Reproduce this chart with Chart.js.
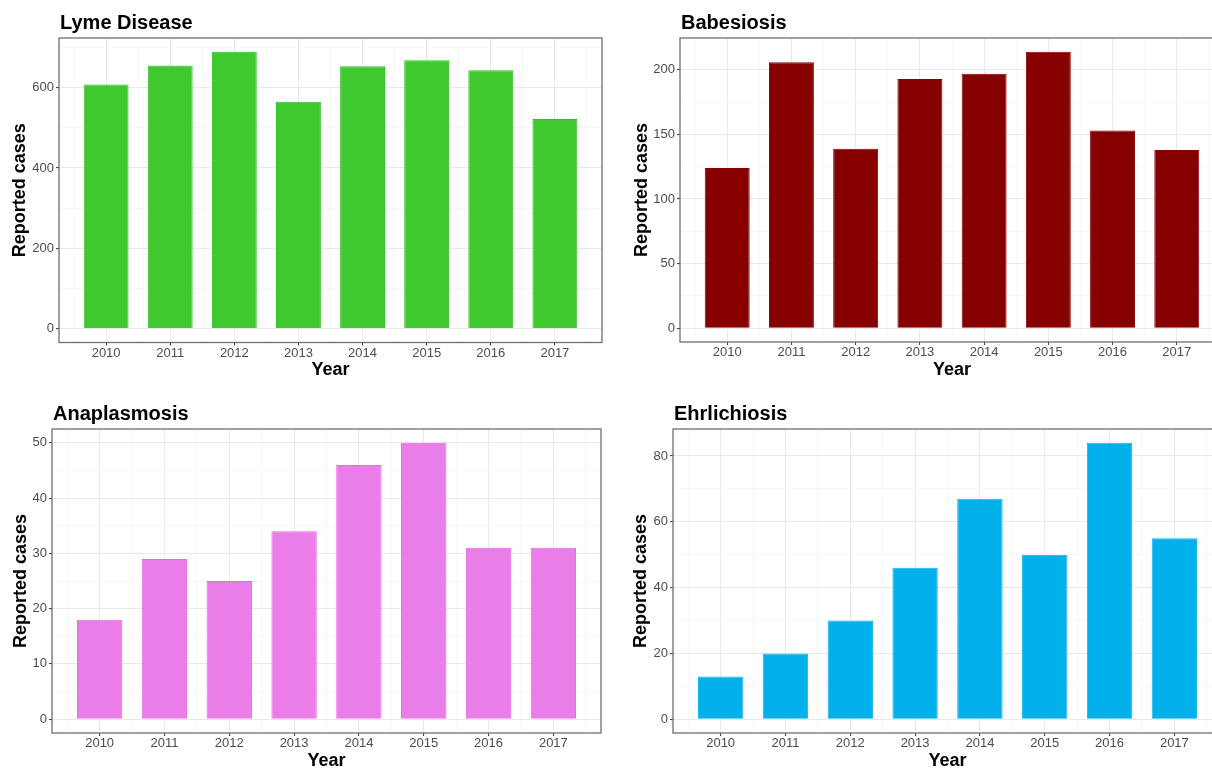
<!DOCTYPE html>
<html lang="en">
<head>
<meta charset="UTF-8">
<title>Reported cases by year</title>
<script src="https://cdn.jsdelivr.net/npm/chart.js"></script>
<style>
  html, body { margin: 0; padding: 0; background: #fff; }
  body { width: 1212px; height: 768px; overflow: hidden; position: relative; }
  canvas { position: absolute; }
</style>
</head>
<body>
<canvas id="lyme" width="606" height="384" style="left:0;top:0"></canvas>
<canvas id="babesiosis" width="620" height="384" style="left:606px;top:0"></canvas>
<canvas id="anaplasmosis" width="606" height="400" style="left:0;top:384px"></canvas>
<canvas id="ehrlichiosis" width="620" height="400" style="left:606px;top:384px"></canvas>

<script>
// data
const years = [2010, 2011, 2012, 2013, 2014, 2015, 2016, 2017];
const lymeCases = [608, 655, 689, 565, 653, 668, 643, 522];
const babesiosisCases = [124, 206, 139, 193, 197, 214, 153, 138];
const anaplasmosisCases = [18, 29, 25, 34, 46, 50, 31, 31];
const ehrlichiosisCases = [13, 20, 30, 46, 67, 50, 84, 55];

const lymeTicks = [0, 200, 400, 600];
const babesiosisTicks = [0, 50, 100, 150, 200];
const anaplasmosisTicks = [0, 10, 20, 30, 40, 50];
const ehrlichiosisTicks = [0, 20, 40, 60, 80];

const FONT = "'Liberation Sans', Arial, sans-serif";
const BAR_WIDTH = 0.7;

// panel layout (pixels inside each canvas)
const panels = [
    { id: 'lyme', title: 'Lyme Disease', values: lymeCases, ticks: lymeTicks,
      fill: '#3fc92f', edge: '#2fc41f',
      pad: { left: 0, top: 38, right: 4, bottom: 0 }, yWidth: 59, xHeight: 41.5, yTitlePad: 9, xTitlePad: 3 },
    { id: 'babesiosis', title: 'Babesiosis', values: babesiosisCases, ticks: babesiosisTicks,
      fill: '#870000', edge: '#870000',
      pad: { left: 16, top: 38, right: 2, bottom: 0 }, yWidth: 58, xHeight: 42, yTitlePad: 9, xTitlePad: 3 },
    { id: 'anaplasmosis', title: 'Anaplasmosis', values: anaplasmosisCases, ticks: anaplasmosisTicks,
      fill: '#eb7de8', edge: '#e565e3',
      pad: { left: 0, top: 45, right: 5, bottom: 0 }, yWidth: 52, xHeight: 51, yTitlePad: 10, xTitlePad: 12 },
    { id: 'ehrlichiosis', title: 'Ehrlichiosis', values: ehrlichiosisCases, ticks: ehrlichiosisTicks,
      fill: '#02b1ec', edge: '#0fb6ee',
      pad: { left: 16, top: 45, right: 4, bottom: 0 }, yWidth: 51, xHeight: 51, yTitlePad: 8, xTitlePad: 12 }
];

// ggplot-like: major breaks plus minor breaks half way between
function withMinors(majors, lo, hi) {
    const step = majors[1] - majors[0];
    const all = [];
    for (let v = majors[0] - step / 2; v <= hi; v += step / 2) {
        if (v >= lo) all.push(v);
    }
    return all;
}

const panelDecor = {
    id: 'panelDecor',
    afterDraw(chart, args, opts) {
        const { ctx, chartArea: a } = chart;
        ctx.save();
        ctx.strokeStyle = '#6f6f6f';
        ctx.lineWidth = 1.3;
        ctx.strokeRect(a.left, a.top, a.right - a.left, a.bottom - a.top);
        ctx.fillStyle = '#000';
        ctx.font = 'bold 20px ' + FONT;
        ctx.textBaseline = 'alphabetic';
        ctx.fillText(opts.text, a.left + 1, a.top - 9);
        ctx.restore();
    }
};

panels.forEach(p => {
    const xLo = years[0] - BAR_WIDTH / 2, xHi = years[years.length - 1] + BAR_WIDTH / 2;
    const xMin = xLo - (xHi - xLo) * 0.05, xMax = xHi + (xHi - xLo) * 0.05;
    const top = Math.max(...p.values);
    const yMin = -top * 0.05, yMax = top * 1.05;

    const xTicks = withMinors(years, xMin, xMax);
    const yTicks = withMinors(p.ticks, yMin, yMax);
    const isMajorX = v => years.includes(v);
    const isMajorY = v => p.ticks.includes(v);

    const gridFor = isMajor => {
        const major = c => !c.tick || isMajor(c.tick.value);
        return {
            offset: false,
            color: c => major(c) ? '#e9e9e9' : '#f4f4f4',
            lineWidth: c => major(c) ? 1.1 : 0.7,
            tickColor: c => major(c) ? '#444' : 'rgba(0,0,0,0)',
            tickLength: 3
        };
    };

    new Chart(document.getElementById(p.id), {
        type: 'bar',
        data: {
            datasets: [{
                data: years.map((y, i) => ({ x: y, y: p.values[i] })),
                backgroundColor: p.fill,
                borderColor: p.edge,
                borderWidth: 1,
                // bar ruler measures against the half-year minor ticks too
                barPercentage: BAR_WIDTH * 2,
                categoryPercentage: 1
            }]
        },
        options: {
            responsive: false,
            animation: false,
            layout: { padding: p.pad },
            plugins: {
                legend: { display: false },
                tooltip: { enabled: false },
                panelDecor: { text: p.title }
            },
            scales: {
                x: {
                    type: 'linear',
                    offset: false,
                    min: xMin,
                    max: xMax,
                    afterBuildTicks: s => { s.ticks = xTicks.map(v => ({ value: v })); },
                    afterFit: s => { s.height = p.xHeight; },
                    border: { display: false },
                    grid: gridFor(isMajorX),
                    ticks: {
                        autoSkip: false, maxRotation: 0, padding: 0,
                        color: '#4d4d4d', font: { family: FONT, size: 13 },
                        callback: v => isMajorX(v) ? String(v) : ''
                    },
                    title: {
                        display: true, text: 'Year', color: '#000',
                        font: { family: FONT, size: 18, weight: 'bold' },
                        padding: { top: 0, bottom: p.xTitlePad }
                    }
                },
                y: {
                    type: 'linear',
                    min: yMin,
                    max: yMax,
                    afterBuildTicks: s => { s.ticks = yTicks.map(v => ({ value: v })); },
                    afterFit: s => { s.width = p.yWidth; },
                    border: { display: false },
                    grid: gridFor(isMajorY),
                    ticks: {
                        autoSkip: false, padding: 2,
                        color: '#4d4d4d', font: { family: FONT, size: 13 },
                        callback: v => isMajorY(v) ? String(v) : ''
                    },
                    title: {
                        display: true, text: 'Reported cases', color: '#000',
                        font: { family: FONT, size: 18, weight: 'bold' },
                        padding: { top: p.yTitlePad, bottom: 0 }
                    }
                }
            }
        },
        plugins: [panelDecor]
    });
});
</script>
</body>
</html>
